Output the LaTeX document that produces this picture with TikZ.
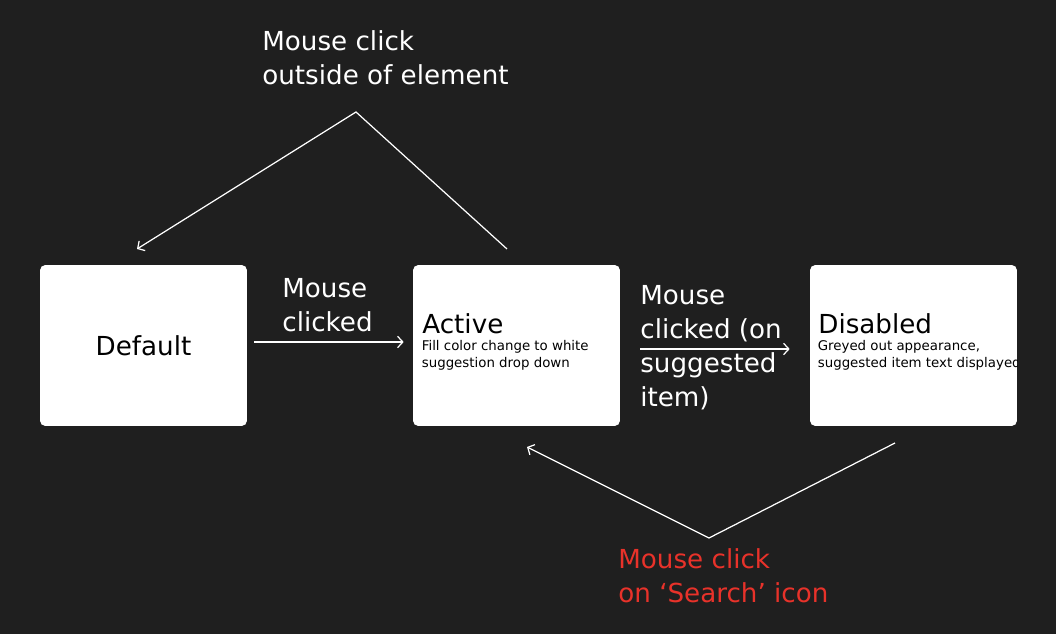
\documentclass[tikz,border=0pt]{standalone}
\usepackage{fontspec}
\setmainfont{DejaVu Sans}
\usetikzlibrary{arrows.meta}
\definecolor{canvas}{HTML}{1F1F1F}
\definecolor{alertred}{HTML}{E8322A}
\begin{document}
\begin{tikzpicture}[x=0.02cm, y=-0.02cm,
	statebox/.style={fill=white, rounded corners=3pt, minimum width=4.14cm, minimum height=3.22cm, inner sep=0pt},
	bigtext/.style={font=\fontsize{14.9}{19.4}\selectfont, align=left, inner sep=0pt},
	smalltext/.style={font=\fontsize{7.6}{9.3}\selectfont, align=left, inner sep=0pt},
	flow/.style={draw=white, line width=0.7pt, -{Straight Barb[length=3pt, width=6.5pt]}}]
	\fill[canvas] (0,0) rectangle (1056,634);

	\node[statebox, bigtext] at (143.5,345.5) (dflt) {Default};
	\node[statebox] at (516.5,345.5) (actv) {};
	\node[statebox] at (913.5,345.5) (dsbl) {};

	\node[bigtext, anchor=base west] at (422,334) (actvtitle) {Active};
	\node[smalltext, anchor=north west] at (421.5,340.5) (actvdesc) {Fill color change to white\\suggestion drop down};
	\node[bigtext, anchor=base west] at (818,334) (dsbltitle) {Disabled};
	\begin{scope}
		\clip (dsbl.north west) rectangle (dsbl.south east);
		\node[smalltext, anchor=north west] at (817.5,340.5) (dsbldesc) {Greyed out appearance,\\suggested item text displayed};
	\end{scope}

	\node[bigtext, text=white, anchor=north west] at (262,30) (outnote) {Mouse click\\outside of element};
	\node[bigtext, text=white, anchor=north west] at (282,278) (clicknote) {Mouse\\clicked};
	\node[bigtext, text=white, anchor=north west] at (640,285) (picknote) {Mouse\\clicked (on\\suggested\\item)};
	\node[bigtext, text=alertred, anchor=north west] at (618,548) (searchnote) {Mouse click\\on ‘Search’ icon};

	\coordinate (actvtop) at (507,249);
	\coordinate (outpeak) at (356,112);
	\coordinate (dflttop) at (137,249);
	\coordinate (dsblbot) at (895,443);
	\coordinate (searchdip) at (709,538);
	\coordinate (actvbot) at (527,447);

	\draw[flow] ([xshift=0.14cm, yshift=0.07cm]dflt.east) -- ([xshift=-0.18cm, yshift=0.07cm]actv.west);
	\draw[flow] ([xshift=0.4cm, yshift=-0.07cm]actv.east) -- ([xshift=-0.4cm, yshift=-0.07cm]dsbl.west);
	\draw[flow] (actvtop) -- (outpeak) -- (dflttop);
	\draw[flow] (dsblbot) -- (searchdip) -- (actvbot);
\end{tikzpicture}
\end{document}
